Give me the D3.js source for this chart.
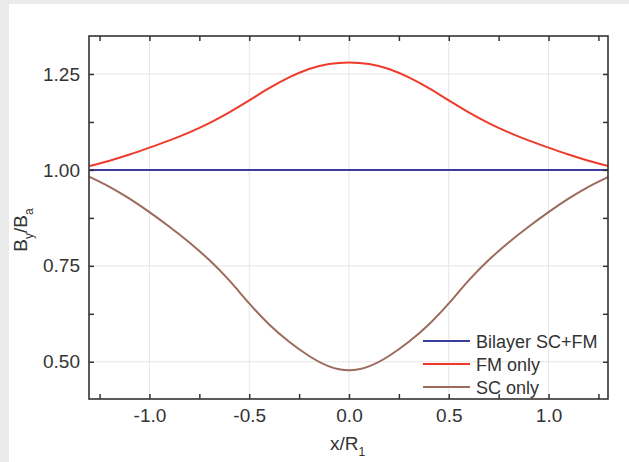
<!DOCTYPE html>
<html>
<head>
<meta charset="utf-8">
<script src="https://cdn.jsdelivr.net/npm/d3@7"></script>
<style>
  body { margin: 0; background: #ebebeb; }
  svg { display: block; }
  text { font-family: "Liberation Sans", Arial, sans-serif; fill: #333; }
</style>
</head>
<body>
<div id="chart"></div>
<script>
// Data
const xValues = [-1.3, -1.2, -1.1, -1.0, -0.9, -0.8, -0.7, -0.6, -0.5, -0.4, -0.3, -0.2, -0.1, 0.0,
                 0.1, 0.2, 0.3, 0.4, 0.5, 0.6, 0.7, 0.8, 0.9, 1.0, 1.1, 1.2, 1.3];
const bilayer = xValues.map(() => 1.0);
const fmOnly = [1.010, 1.024, 1.040, 1.058, 1.077, 1.098, 1.122, 1.150, 1.181, 1.213, 1.241, 1.263, 1.276, 1.280,
                1.276, 1.263, 1.241, 1.213, 1.181, 1.150, 1.122, 1.098, 1.077, 1.058, 1.040, 1.024, 1.010];
const scOnly = [0.982, 0.956, 0.925, 0.890, 0.852, 0.811, 0.765, 0.712, 0.652, 0.597, 0.552, 0.515, 0.488, 0.478,
                0.488, 0.515, 0.552, 0.597, 0.652, 0.712, 0.765, 0.811, 0.852, 0.890, 0.925, 0.956, 0.982];
const xTicks = [-1.0, -0.5, 0.0, 0.5, 1.0];
const yTicks = [0.50, 0.75, 1.00, 1.25];
const seriesNames = ["Bilayer SC+FM", "FM only", "SC only"];
const seriesColors = ["#3a3d9c", "#ee3b2b", "#9c6b5c"];

const W = 629, H = 462;
const margin = {top: 36, right: 21, bottom: 63, left: 89};
const width = W - margin.left - margin.right;
const height = H - margin.top - margin.bottom;

const svg = d3.select("#chart").append("svg")
    .attr("width", W)
    .attr("height", H);

// White panel
svg.append("rect")
    .attr("x", 9).attr("y", 4)
    .attr("width", W - 9).attr("height", H - 4)
    .attr("fill", "#fff");

const g = svg.append("g").attr("transform", `translate(${margin.left},${margin.top})`);

const x = d3.scaleLinear().domain([-1.303, 1.298]).range([0, width]);
const y = d3.scaleLinear().domain([0.403, 1.349]).range([height, 0]);

// Grid
g.selectAll(".vgrid").data(xTicks).enter().append("line")
    .attr("x1", d => x(d)).attr("x2", d => x(d))
    .attr("y1", 0).attr("y2", height)
    .attr("stroke", "#e6e6e6").attr("stroke-width", 1);
g.selectAll(".hgrid").data(yTicks).enter().append("line")
    .attr("y1", d => y(d)).attr("y2", d => y(d))
    .attr("x1", 0).attr("x2", width)
    .attr("stroke", "#e6e6e6").attr("stroke-width", 1);

// Curves
const line = d3.line().x((d, i) => x(xValues[i])).y(d => y(d)).curve(d3.curveNatural);
[bilayer, fmOnly, scOnly].forEach((s, k) => {
    g.append("path")
        .datum(s)
        .attr("fill", "none")
        .attr("stroke", seriesColors[k])
        .attr("stroke-width", 2)
        .attr("d", line);
});

// Axes with inward ticks
const minorX = d3.range(-1.25, 1.26, 0.25);
const minorY = d3.range(0.5, 1.31, 0.125);

function tickAxis(axisGen, transform) {
    const a = g.append("g").attr("transform", transform).call(axisGen);
    a.select(".domain").remove();
    a.selectAll("line").attr("stroke", "#333").attr("stroke-width", 1.5);
    a.selectAll("text").style("font-size", "19px").attr("fill", "#333");
    return a;
}

tickAxis(d3.axisBottom(x).tickValues(minorX).tickSize(-5).tickPadding(10)
    .tickFormat(d => xTicks.some(t => Math.abs(t - d) < 1e-6) ? d.toFixed(1) : ""), `translate(0,${height})`);
tickAxis(d3.axisTop(x).tickValues(minorX).tickSize(-5).tickFormat(""), "translate(0,0)");
tickAxis(d3.axisLeft(y).tickValues(minorY).tickSize(-5).tickPadding(9)
    .tickFormat(d => yTicks.some(t => Math.abs(t - d) < 1e-6) ? d.toFixed(2) : ""), "translate(0,0)");
tickAxis(d3.axisRight(y).tickValues(minorY).tickSize(-5).tickFormat(""), `translate(${width},0)`);

// Frame
g.append("rect")
    .attr("width", width).attr("height", height)
    .attr("fill", "none").attr("stroke", "#333").attr("stroke-width", 1.6);

// Axis labels
const xl = svg.append("text")
    .attr("x", 330).attr("y", 450)
    .style("font-size", "19px");
xl.append("tspan").text("x/R");
xl.append("tspan").attr("dy", 6).style("font-size", "12px").text("1");

const yl = svg.append("text")
    .attr("transform", "translate(27,230) rotate(-90)")
    .attr("text-anchor", "middle")
    .style("font-size", "19px");
yl.append("tspan").text("B");
yl.append("tspan").attr("dy", 6).style("font-size", "12px").text("y");
yl.append("tspan").attr("dy", -6).text("/B");
yl.append("tspan").attr("dy", 6).style("font-size", "12px").text("a");

// Legend
const legend = svg.append("g");
seriesNames.forEach((name, i) => {
    const ly = 341 + i * 23;
    legend.append("line")
        .attr("x1", 423).attr("x2", 470)
        .attr("y1", ly).attr("y2", ly)
        .attr("stroke", seriesColors[i]).attr("stroke-width", 2);
    legend.append("text")
        .attr("x", 476).attr("y", ly + 7)
        .style("font-size", "18px")
        .text(name);
});
</script>
</body>
</html>
